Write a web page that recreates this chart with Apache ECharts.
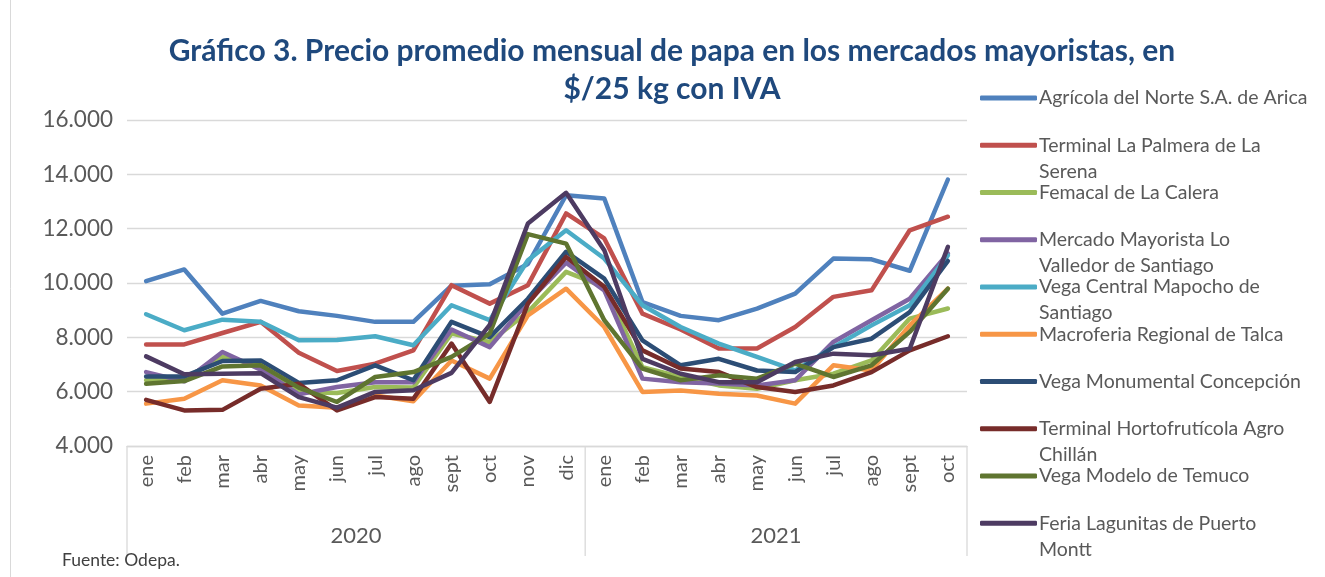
<!DOCTYPE html>
<html><head><meta charset="utf-8">
<script src="https://cdn.jsdelivr.net/npm/echarts/dist/echarts.min.js"></script>
<style>html,body{margin:0;padding:0;background:#fff}#c{width:1325px;height:577px}</style>
</head><body><div id="c"></div>
<script>
// ---- data ----
const months = ['ene','feb','mar','abr','may','jun','jul','ago','sept','oct','nov','dic','ene','feb','mar','abr','may','jun','jul','ago','sept','oct'];
const years = ['2020','2021'];
const monthsPerYear = [12, 10];
const yMin = 4000, yMax = 16000, yStep = 2000;

const seriesNames = [
  'Agrícola del Norte S.A. de Arica',
  'Terminal La Palmera de La Serena',
  'Femacal de La Calera',
  'Mercado Mayorista Lo Valledor de Santiago',
  'Vega Central Mapocho de Santiago',
  'Macroferia Regional de Talca',
  'Vega Monumental Concepción',
  'Terminal Hortofrutícola Agro Chillán',
  'Vega Modelo de Temuco',
  'Feria Lagunitas de Puerto Montt'
];
const legendLabels = [
  'Agrícola del Norte S.A. de Arica',
  'Terminal La Palmera de La\nSerena',
  'Femacal de La Calera',
  'Mercado Mayorista Lo\nValledor de Santiago',
  'Vega Central Mapocho de\nSantiago',
  'Macroferia Regional de Talca',
  'Vega Monumental Concepción',
  'Terminal Hortofrutícola Agro\nChillán',
  'Vega Modelo de Temuco',
  'Feria Lagunitas de Puerto\nMontt'
];

const agricola    = [10070,10500,8870,9340,8960,8790,8570,8570,9900,9950,10700,13230,13110,9300,8790,8630,9060,9610,10900,10870,10450,13810];
const palmera     = [7740,7740,8160,8570,7430,6760,7030,7520,9920,9240,9920,12560,11640,8870,8290,7590,7590,8380,9490,9730,11940,12440];
const femacal     = [6420,6480,7280,6970,5990,5950,6170,6150,8140,7830,8930,10410,9860,6900,6540,6230,6110,6420,6660,7150,8690,9060];
const loValledor  = [6720,6380,7460,6810,5900,6170,6350,6350,8290,7640,9300,10750,9730,6480,6350,6300,6230,6420,7830,8630,9420,11090];
const vegaCentral = [8850,8260,8650,8570,7890,7900,8040,7710,9180,8630,10840,11940,10900,9180,8380,7770,7280,6780,7640,8440,9180,11020];
const talca       = [5560,5740,6420,6230,5490,5410,5860,5650,7150,6480,8810,9790,8380,5990,6040,5920,5860,5560,6970,6780,8440,9790];
const concepcion  = [6560,6560,7130,7150,6320,6420,6970,6420,8570,8010,9420,11150,10160,7890,6970,7210,6780,6720,7640,7950,8930,10810];
const chillan     = [5700,5310,5330,6110,6290,5310,5800,5740,7770,5620,9240,10960,9860,7520,6850,6720,6170,5990,6230,6720,7520,8040];
const temuco      = [6290,6390,6930,6970,6150,5620,6540,6720,7280,8140,11800,11450,8630,6850,6420,6600,6480,7030,6540,6970,8200,9790];
const puertoMontt = [7300,6640,6660,6680,5800,5410,5990,6050,6690,8460,12190,13320,11210,7210,6660,6350,6350,7090,7400,7340,7580,11330];

const seriesValues = [agricola, palmera, femacal, loValledor, vegaCentral, talca, concepcion, chillan, temuco, puertoMontt];
const colors = ['#4F81BD','#C0504D','#9BBB59','#8064A2','#4BACC6','#F79646','#2C4D75','#772C2A','#5F7530','#4D3B62'];

// ---- chart ----
const FONT = 'Lato, "Open Sans", "DejaVu Sans", sans-serif';
const TXT = '#595959';
const GRID_COLOR = '#D9D9D9';
const LH = 26;
const legendIconY = [98, 145.3, 192.5, 239.8, 287, 334.3, 381.5, 428.8, 476, 523.3];

const keys = months.map((m, i) => m + '_' + i);
const fmt = v => String(v).replace(/\B(?=(\d{3})+(?!\d))/g, '.');

const chart = echarts.init(document.getElementById('c'), null, {renderer: 'canvas'});

const legends = seriesNames.map((n, i) => {
  const two = legendLabels[i].indexOf('\n') >= 0;
  return {
    data: [n],
    left: 980,
    top: legendIconY[i] - (two ? 1.5 * LH : LH / 2),
    orient: 'vertical',
    padding: 0,
    itemGap: 0,
    itemWidth: 57,
    itemHeight: 5,
    icon: 'roundRect',
    selectedMode: false,
    formatter: () => (two ? '\n' : '') + legendLabels[i],
    textStyle: {fontFamily: FONT, fontSize: 19.5, color: TXT, lineHeight: LH, padding: [0, 0, 0, -3]}
  };
});

chart.setOption({
  animation: false,
  backgroundColor: '#fff',
  color: colors,
  title: {
    text: 'Gráfico 3. Precio promedio mensual de papa en los mercados mayoristas, en\n$/25 kg con IVA',
    left: 667, top: 27, textAlign: 'center',
    textStyle: {fontFamily: FONT, fontWeight: 'bold', fontSize: 30, color: '#1F497D', lineHeight: 38}
  },
  legend: legends,
  grid: {left: 127, width: 840, top: 120, height: 326, containLabel: false},
  xAxis: {
    type: 'category', data: keys, boundaryGap: true,
    axisLine: {lineStyle: {color: GRID_COLOR, width: 1.3}},
    axisTick: {show: false},
    axisLabel: {
      interval: 0, rotate: 90, margin: 9,
      formatter: (v, idx) => months[idx],
      fontFamily: FONT, fontSize: 20, color: TXT
    },
    splitLine: {show: false}
  },
  yAxis: {
    type: 'value', min: yMin, max: yMax, interval: yStep,
    axisLine: {show: false}, axisTick: {show: false},
    axisLabel: {formatter: fmt, fontFamily: FONT, fontSize: 22.5, color: TXT, margin: 14},
    splitLine: {lineStyle: {color: GRID_COLOR, width: 1.3}}
  },
  series: seriesNames.map((n, i) => ({
    name: n, type: 'line', data: seriesValues[i],
    symbol: 'none', smooth: false,
    lineStyle: {width: 4.5, color: colors[i], cap: 'round', join: 'round'},
    itemStyle: {color: colors[i]}
  }))
});

// year grouping under the axis
const xAt = i => chart.convertToPixel({xAxisIndex: 0}, i);
const band = xAt(1) - xAt(0);
const axisY = chart.convertToPixel({yAxisIndex: 0}, yMin);
let start = 0;
const bounds = [xAt(0) - band / 2];
years.forEach((y, k) => {
  const end = start + monthsPerYear[k] - 1;
  bounds.push(xAt(end) + band / 2);
  start = end + 1;
});
const graphics = [];
bounds.forEach(b => {
  graphics.push({type: 'line', shape: {x1: b, y1: axisY, x2: b, y2: axisY + 110},
    style: {stroke: GRID_COLOR, lineWidth: 1.3}, silent: true});
});
years.forEach((y, k) => {
  const x0 = bounds[k], x1 = bounds[k + 1];
  graphics.push({type: 'text', x: (x0 + x1) / 2, y: axisY + 90,
    style: {text: y, font: '22px ' + FONT, fill: TXT, align: 'center', verticalAlign: 'middle'}, silent: true});
});
graphics.push({type: 'text', x: 62, y: 560,
  style: {text: 'Fuente: Odepa.', font: '17.5px ' + FONT, fill: '#404040', align: 'left', verticalAlign: 'middle'}, silent: true});
graphics.push({type: 'line', shape: {x1: 10.5, y1: 0, x2: 10.5, y2: 577},
  style: {stroke: GRID_COLOR, lineWidth: 1}, silent: true});
chart.setOption({graphic: graphics});
</script>
</body></html>
